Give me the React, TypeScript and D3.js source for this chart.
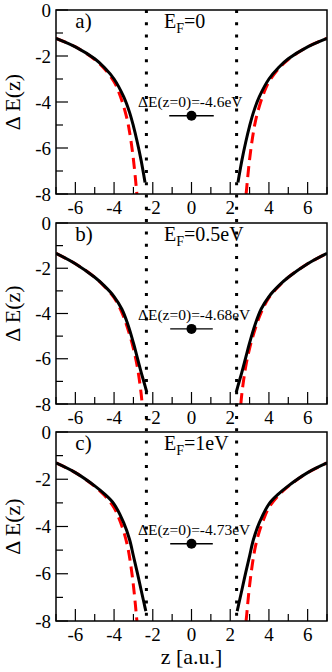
import React from 'react';
import * as d3 from 'd3';

// layout of the three stacked panels (pixels)
const W = 332;
const H = 672;
const X0 = 56;
const X1 = 327;
const panelTop = [10, 223, 432];
const panelBottom = [194, 404, 621];

const xTicks = [-6, -4, -2, 0, 2, 4, 6];
const xMinor = [-7, -5, -3, -1, 1, 3, 5, 7];
const yTicks = [0, -2, -4, -6, -8];
const yMinor = [-1, -3, -5, -7];

const panelTags = ['a)', 'b)', 'c)'];
const fermiLabels = ['=0', '=0.5eV', '=1eV'];
const gapValues = [-4.6, -4.68, -4.73];
const gapLabels = ['ΔE(z=0)=-4.6eV', 'ΔE(z=0)=-4.68eV', 'ΔE(z=0)=-4.73eV'];
const gapErr = [1.15, 1.1, 1.1];
const wallZ = 2.33;

// |z| and ΔE for the solid (black) curves
const zBlackA = [7, 6, 5, 4.5, 4, 3.5, 3.2, 3, 2.8, 2.6, 2.4];
const eBlackA = [-1.23, -1.6, -2.12, -2.5, -3.0, -3.78, -4.45, -5.05, -5.75, -6.55, -7.5];
const zBlackB = [7, 6, 5, 4.5, 4, 3.6, 3.3, 3, 2.8, 2.6, 2.45, 2.31];
const eBlackB = [-1.34, -1.8, -2.4, -2.78, -3.25, -3.8, -4.45, -5.3, -5.95, -6.6, -7.05, -7.48];
const zBlackC = [7, 6, 5, 4.5, 4, 3.5, 3.2, 3, 2.8, 2.6, 2.45, 2.36];
const eBlackC = [-1.31, -1.72, -2.28, -2.62, -3.05, -3.85, -4.55, -5.25, -5.95, -6.7, -7.25, -7.58];

// |z| and ΔE for the dashed (red) curves
const zRedA = [7, 6, 5, 4.5, 4, 3.75, 3.5, 3.3, 3.2, 3.1, 3, 2.9, 2.85, 2.82];
const eRedA = [-1.23, -1.6, -2.15, -2.55, -3.12, -3.58, -4.2, -4.85, -5.3, -5.85, -6.5, -7.3, -7.75, -8];
const zRedB = [7, 6, 5, 4.5, 4, 3.6, 3.3, 3, 2.8, 2.7, 2.6, 2.55];
const eRedB = [-1.34, -1.8, -2.4, -2.8, -3.3, -3.95, -4.65, -5.55, -6.35, -6.9, -7.55, -8];
const zRedC = [7, 6, 5, 4.5, 4, 3.75, 3.5, 3.3, 3.2, 3.1, 3, 2.9, 2.85, 2.82];
const eRedC = [-1.31, -1.72, -2.3, -2.68, -3.2, -3.65, -4.22, -4.85, -5.3, -5.85, -6.5, -7.3, -7.75, -8];

const black = [[zBlackA, eBlackA], [zBlackB, eBlackB], [zBlackC, eBlackC]];
const red = [[zRedA, eRedA], [zRedB, eRedB], [zRedC, eRedC]];

const FONT = 'Liberation Serif, DejaVu Serif, serif';

// mirror |z| data into the left and right branches
function branches(zs: number[], es: number[]) {
  const right = zs.map((z, i) => [z, es[i]] as [number, number]).sort((a, b) => a[0] - b[0]);
  const left = right.map(([z, e]) => [-z, e] as [number, number]).sort((a, b) => a[0] - b[0]);
  return [left, right];
}

function Panel({ i }: { i: number }) {
  const top = panelTop[i];
  const bottom = panelBottom[i];
  const x = d3.scaleLinear().domain([-7, 7]).range([X0, X1]);
  const y = d3.scaleLinear().domain([0, -8]).range([top, bottom]);
  const line = d3.line<[number, number]>().x(d => x(d[0])).y(d => y(d[1])).curve(d3.curveCatmullRom.alpha(0.5));
  const clipId = `clip-${i}`;
  const [bz, be] = black[i];
  const [rz, re] = red[i];

  return (
    <g>
      <defs>
        <clipPath id={clipId}>
          <rect x={X0} y={top} width={X1 - X0} height={bottom - top} />
        </clipPath>
      </defs>

      <g clipPath={`url(#${clipId})`} fill="none">
        {branches(rz, re).map((b, k) => (
          <path key={'r' + k} d={line(b) || ''} stroke="#ff0000" strokeWidth={3} strokeDasharray="11,6" />
        ))}
        {branches(bz, be).map((b, k) => (
          <path key={'b' + k} d={line(b) || ''} stroke="#000" strokeWidth={3} />
        ))}
      </g>

      {/* frame */}
      <rect x={X0} y={top} width={X1 - X0} height={bottom - top} fill="none" stroke="#000" strokeWidth={1.5} />

      {/* x ticks */}
      {xTicks.map(t => (
        <g key={'xt' + t}>
          <line x1={x(t)} x2={x(t)} y1={bottom} y2={bottom - 12} stroke="#000" strokeWidth={1.2} />
          <text x={x(t)} y={bottom + 20} textAnchor="middle" fontSize={19}>{t}</text>
        </g>
      ))}
      {xMinor.map(t => (
        <line key={'xm' + t} x1={x(t)} x2={x(t)} y1={bottom} y2={bottom - 7} stroke="#000" strokeWidth={1.2} />
      ))}

      {/* y ticks */}
      {yTicks.map(t => (
        <g key={'yt' + t}>
          <line x1={X0} x2={X0 + 12} y1={y(t)} y2={y(t)} stroke="#000" strokeWidth={1.2} />
          <text x={51} y={y(t)} dy="0.35em" textAnchor="end" fontSize={19}>{t}</text>
        </g>
      ))}
      {yMinor.map(t => (
        <line key={'ym' + t} x1={X0} x2={X0 + 7} y1={y(t)} y2={y(t)} stroke="#000" strokeWidth={1.2} />
      ))}

      {/* panel tag and Fermi level */}
      <text x={x(-6)} y={top + 18} fontSize={21}>{panelTags[i]}</text>
      <text x={164} y={top + 18} fontSize={20}>
        E<tspan fontSize={14} dy={5}>F</tspan><tspan dy={-5}>{fermiLabels[i]}</tspan>
      </text>

      {/* ΔE(z=0) point with horizontal bar */}
      <line x1={x(-gapErr[i])} x2={x(gapErr[i])} y1={y(gapValues[i])} y2={y(gapValues[i])} stroke="#000" strokeWidth={1.4} />
      <circle cx={x(0)} cy={y(gapValues[i])} r={5} fill="#000" />
      <text x={138} y={y(gapValues[i]) - 9} fontSize={15.5}>{gapLabels[i]}</text>
    </g>
  );
}

export default function App() {
  const x = d3.scaleLinear().domain([-7, 7]).range([X0, X1]);
  return (
    <svg width={W} height={H} fontFamily={FONT} style={{ position: 'absolute', left: 0, top: 0, background: '#fff' }}>
      {panelTop.map((_, i) => <Panel key={i} i={i} />)}

      {/* metal surfaces, dotted through all panels */}
      {[-wallZ, wallZ].map(z => (
        <line key={z} x1={x(z)} x2={x(z)} y1={panelTop[0]} y2={panelBottom[2]} stroke="#000" strokeWidth={3} strokeDasharray="3,9.3" />
      ))}

      {panelTop.map((t, i) => (
        <text key={'yl' + i} transform={`translate(20,${(t + panelBottom[i]) / 2}) rotate(-90)`} textAnchor="middle" fontSize={22}>
          Δ E(z)
        </text>
      ))}
      <text x={x(0)} y={664} textAnchor="middle" fontSize={22}>z [a.u.]</text>
    </svg>
  );
}
